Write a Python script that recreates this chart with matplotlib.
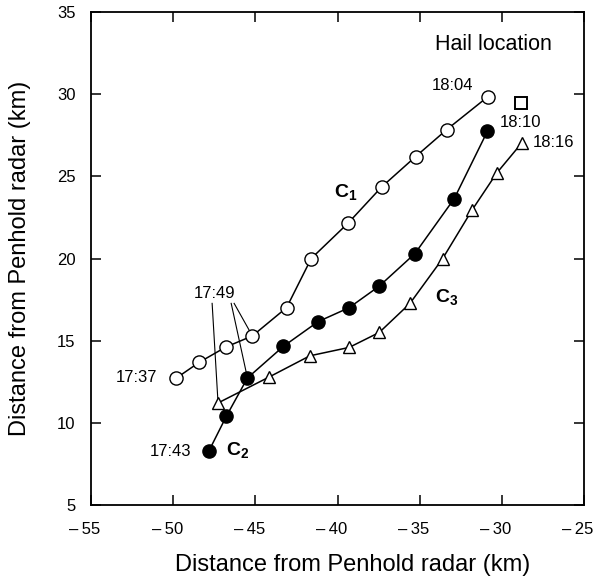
import matplotlib
matplotlib.use("Agg")
import matplotlib.pyplot as plt
import matplotlib.transforms as mtrans

plt.rcParams['font.family'] = ['Liberation Sans', 'DejaVu Sans']
plt.rcParams['mathtext.fontset'] = 'custom'
plt.rcParams['mathtext.rm'] = 'Liberation Sans'
plt.rcParams['mathtext.bf'] = 'Liberation Sans:bold'

# cell tracks (km from Penhold radar)
c1_x = [-49.8, -48.42, -46.8, -45.18, -43.1, -41.6, -39.35, -37.32, -35.25, -33.36, -30.86]
c1_y = [12.73, 13.68, 14.61, 15.29, 17.01, 20.0, 22.16, 24.35, 26.2, 27.84, 29.84]
c2_x = [-47.83, -46.76, -45.48, -43.3, -41.18, -39.29, -37.46, -35.29, -32.9, -30.88]
c2_y = [8.28, 10.41, 12.73, 14.65, 16.16, 17.01, 18.32, 20.3, 23.64, 27.74]
c3_x = [-47.27, -44.16, -41.68, -39.29, -37.46, -35.59, -33.6, -31.8, -30.32, -28.79]
c3_y = [11.21, 12.79, 14.08, 14.59, 15.5, 17.27, 20.0, 22.97, 25.19, 27.03]
hail_x = [-28.85]
hail_y = [29.44]

xticks = [-55, -50, -45, -40, -35, -30, -25]
yticks = [5, 10, 15, 20, 25, 30, 35]

fig = plt.figure(figsize=(5.96, 5.81), dpi=100)
ax = fig.add_axes([0.1527, 0.1308, 0.8272, 0.8485])

mk = dict(markersize=9.5, markeredgewidth=1.0, markeredgecolor='black', zorder=3)
ax.plot(c1_x, c1_y, '-o', color='black', lw=1.1, markerfacecolor='white', **mk)
ax.plot(c2_x, c2_y, '-o', color='black', lw=1.1, markerfacecolor='black', **mk)
ax.plot(c3_x, c3_y, '-^', color='black', lw=1.1, markerfacecolor='white',
        markersize=8.5, markeredgewidth=1.0, markeredgecolor='black', zorder=3)
ax.plot(hail_x, hail_y, 's', markersize=8, markerfacecolor='white',
        markeredgecolor='black', markeredgewidth=1.4, zorder=3)

# time labels
lbl = dict(fontsize=12, textcoords='offset points')
ax.annotate('17:37', (c1_x[0], c1_y[0]), xytext=(-14, 0), ha='right', va='center', **lbl)
ax.annotate('17:43', (c2_x[0], c2_y[0]), xytext=(-13, 0), ha='right', va='center', **lbl)
ax.annotate('18:04', (c1_x[-1], c1_y[-1]), xytext=(-25, 8), ha='center', va='center', **lbl)
ax.annotate('18:10', (c2_x[-1], c2_y[-1]), xytext=(9, 6.7), ha='left', va='center', **lbl)
ax.annotate('18:16', (c3_x[-1], c3_y[-1]), xytext=(8, 0), ha='left', va='center', **lbl)

# 17:49 with leader lines
ax.text(-47.48, 17.88, '17:49', fontsize=12, ha='center', va='center')
ax.plot([-47.63, c3_x[0]], [17.27, c3_y[0]], color='black', lw=0.8, zorder=2)
ax.plot([-46.47, c2_x[2]], [17.27, c2_y[2]], color='black', lw=0.8, zorder=2)
ax.plot([-46.29, c1_x[3]], [17.27, c1_y[3]], color='black', lw=0.8, zorder=2)

ax.text(-39.5, 24.0, r'$\mathbf{C}_\mathbf{1}$', fontsize=14, ha='center', va='center')
ax.text(-46.05, 8.3, r'$\mathbf{C}_\mathbf{2}$', fontsize=14, ha='center', va='center')
ax.text(-33.35, 17.58, r'$\mathbf{C}_\mathbf{3}$', fontsize=14, ha='center', va='center')
ax.text(-30.52, 33.03, 'Hail location', fontsize=15.5, ha='center', va='center')

ax.set_xlim(-55, -25)
ax.set_ylim(5, 35)
ax.set_xticks(xticks)
ax.set_xticklabels(['\u2013\u2009%d' % abs(v) for v in xticks])
ax.set_yticks(yticks)
ax.tick_params(direction='in', top=True, right=True, length=7, width=1.1,
               labelsize=12)
ax.tick_params(axis='x', pad=12)
ax.tick_params(axis='y', pad=11)
shift = mtrans.ScaledTranslation(-0.06, 0, fig.dpi_scale_trans)
for t in ax.get_xticklabels():
    t.set_transform(t.get_transform() + shift)
for s in ax.spines.values():
    s.set_linewidth(1.3)

ax.set_xlabel('Distance from Penhold radar (km)', fontsize=17)
ax.set_ylabel('Distance from Penhold radar (km)', fontsize=17)
ax.xaxis.set_label_coords(0.53, -0.099)
ax.yaxis.set_label_coords(-0.122, 0.5)

fig.savefig('out.png', dpi=100)
